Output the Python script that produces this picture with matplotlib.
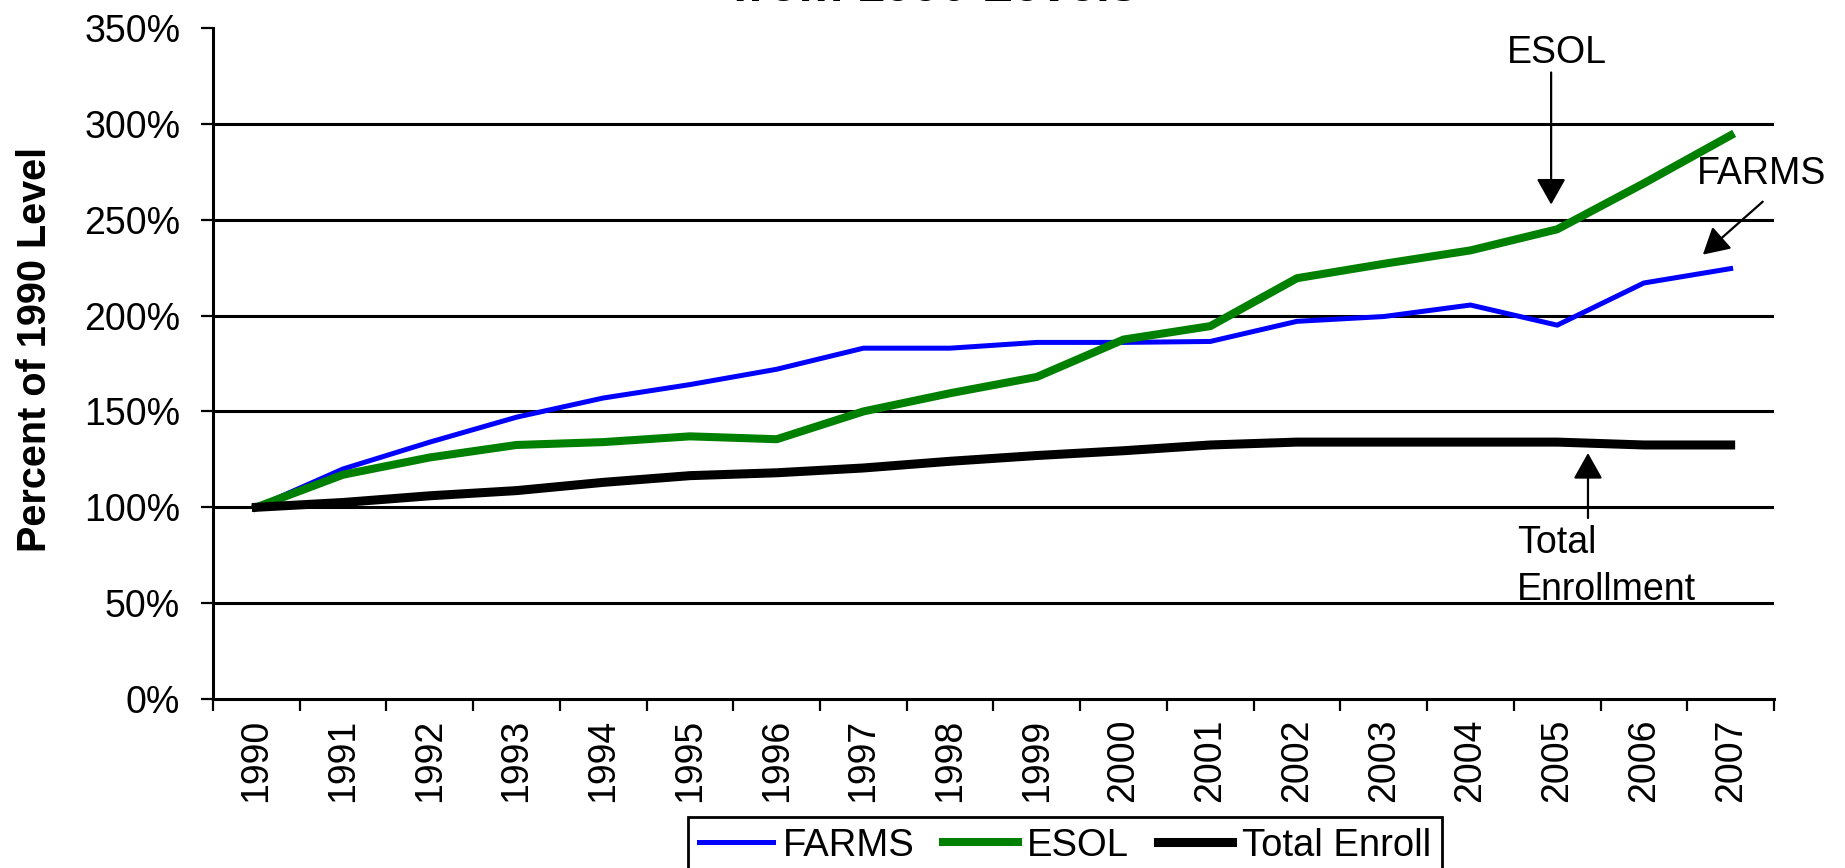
import matplotlib
matplotlib.use("Agg")
import matplotlib.pyplot as plt
from matplotlib.ticker import FuncFormatter


W, H = 1845, 868

years = ["1990", "1991", "1992", "1993", "1994", "1995", "1996", "1997", "1998",
         "1999", "2000", "2001", "2002", "2003", "2004", "2005", "2006", "2007"]

# percent of the 1990 level
farms = [100, 120, 134, 147, 157, 164, 172, 183, 183,
         186, 186, 186.5, 197, 199.5, 205.5, 195, 217, 224.5]
esol = [100, 117, 126, 132.5, 134, 137, 135.5, 150, 159.5,
        168, 187.5, 194.5, 219.5, 227, 234, 245, 269, 294]
total = [100, 102.5, 106, 108.7, 113, 116.5, 118, 120.5, 124,
         127, 129.5, 132.5, 134, 134, 134, 134, 132.5, 132.5]

y_ticks = [0, 50, 100, 150, 200, 250, 300, 350]

plt.rcParams["font.family"] = ["Liberation Sans", "DejaVu Sans"]


def px(x, y):
    # pixel position (from top-left) -> figure fraction
    return x / W, 1 - y / H


def main():
    fig = plt.figure(figsize=(W / 100, H / 100), dpi=100)
    left, top = 213, 28
    right, bottom = 1774, 699
    ax = fig.add_axes([left / W, 1 - bottom / H, (right - left) / W, (bottom - top) / H])

    x = list(range(len(years)))
    ax.plot(x, farms, color="#0000ff", lw=3.6, label="FARMS", zorder=3)
    ax.plot(x, esol, color="#008000", lw=5.8, label="ESOL", zorder=4)
    ax.plot(x, total, color="black", lw=6.5, label="Total Enroll", zorder=5)

    ax.set_xlim(-0.5, len(years) - 0.5)
    ax.set_ylim(0, 350)

    # ---- gridlines (none on 0 and 350) ----
    for v in y_ticks[1:-1]:
        ax.axhline(v, color="black", lw=2.2, zorder=1)

    ax.set_yticks(y_ticks)
    ax.yaxis.set_major_formatter(FuncFormatter(lambda v, p: f"{v:.0f}%"))
    ax.tick_params(axis="y", direction="out", length=8.6, width=1.6, pad=15,
                   labelsize=27, colors="black")

    ax.set_xticks(x)
    ax.set_xticklabels(years, rotation=90)
    ax.set_xticks([i - 0.5 for i in range(len(years) + 1)], minor=True)
    ax.tick_params(axis="x", which="major", length=0, pad=14, labelsize=27)
    ax.tick_params(axis="x", which="minor", direction="out", length=8.6, width=1.6)

    for s in ("top", "right"):
        ax.spines[s].set_visible(False)
    for s in ("left", "bottom"):
        ax.spines[s].set_linewidth(2.2)
        ax.spines[s].set_color("black")

    # ---- labels ----
    fig.text(*px(35, 350), "Percent of 1990 Level", rotation=90, fontsize=28.5,
             fontweight="bold", ha="center", va="center")
    # title is mostly cut off at the top of the picture
    fig.text(*px(935, 1), "from 1990 Levels", fontsize=36, fontweight="bold",
             ha="center", va="baseline")

    # ---- callouts ----
    arrow = dict(arrowstyle="-|>,head_length=0.8,head_width=0.45", mutation_scale=20,
                 color="black", lw=1.6, shrinkA=0, shrinkB=0)
    ax.text(15.0, 337, "ESOL", fontsize=27, ha="center", va="center", clip_on=False)
    ax.annotate("", xy=(14.93, 257.9), xytext=(14.93, 326.8), arrowprops=arrow,
                annotation_clip=False)
    ax.text(17.36, 274, "FARMS", fontsize=27, ha="center", va="center", clip_on=False)
    ax.annotate("", xy=(16.68, 231.8), xytext=(17.37, 259.4), arrowprops=arrow,
                annotation_clip=False)
    ax.text(14.54, 91, "Total\nEnrollment", fontsize=27, ha="left", va="top",
            linespacing=1.42, clip_on=False)
    ax.annotate("", xy=(15.355, 128.3), xytext=(15.355, 94.4), arrowprops=arrow,
                annotation_clip=False)

    # ---- legend (bottom part runs off the picture) ----
    leg = fig.legend(loc="upper left", bbox_to_anchor=px(688, 817), ncol=3,
                     fontsize=27.5, frameon=True, fancybox=False, edgecolor="black",
                     framealpha=1, borderaxespad=0, borderpad=0.28,
                     handlelength=1.95, handletextpad=0.25, columnspacing=0.75)
    leg.get_frame().set_linewidth(2)

    fig.savefig("out.png", dpi=100)


if __name__ == "__main__":
    main()
